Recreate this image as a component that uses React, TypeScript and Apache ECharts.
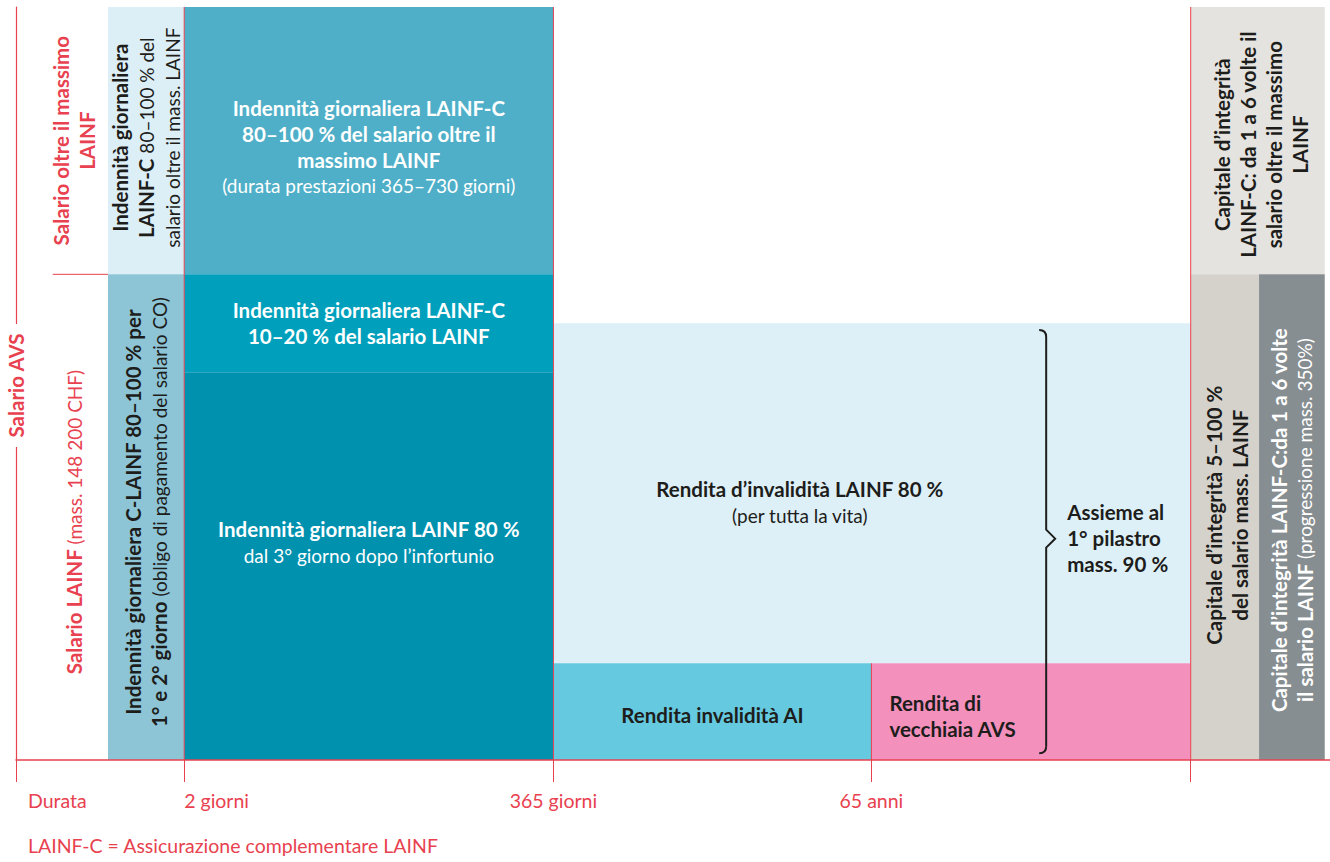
import React, { useEffect, useRef } from "react";
import * as echarts from "echarts";

const RED = "#E8414F";
const INK = "#1d1d1b";
const FONT = "Lato";

// Duration axis (layout units 0–100): ticks and their labels
const durationTicks = [0, 12.8, 40.9, 65.1, 89.4];
const durationLabels = ["Durata", "2 giorni", "365 giorni", "65 anni", ""];

// Column boundaries along the duration axis
const xCols = [0, 7, 12.8, 40.9, 65.1, 89.4, 94.6, 99.6];
// Salary levels on the AVS salary axis (0–100)
const yLevels = [0, 12.85, 51.5, 58, 64.5, 100];

// Blocks: [x0, x1, y0, y1]
const blocks: number[][] = [
  [xCols[1], xCols[2], yLevels[4], yLevels[5]],
  [xCols[1], xCols[2], yLevels[0], yLevels[4]],
  [xCols[2], xCols[3], yLevels[4], yLevels[5]],
  [xCols[2], xCols[3], yLevels[2], yLevels[4]],
  [xCols[2], xCols[3], yLevels[0], yLevels[2]],
  [xCols[3], xCols[5], yLevels[1], yLevels[3]],
  [xCols[3], xCols[4], yLevels[0], yLevels[1]],
  [xCols[4], xCols[5], yLevels[0], yLevels[1]],
  [xCols[5], xCols[7], yLevels[4], yLevels[5]],
  [xCols[5], xCols[6], yLevels[0], yLevels[4]],
  [xCols[6], xCols[7], yLevels[0], yLevels[4]],
];

const blockColors = [
  "#DDEFF6", "#8DC5D6", "#4FAFC8", "#00A0BC", "#0091AF",
  "#DDF0F7", "#65C9E0", "#F390BC", "#E5E3DF", "#D5D2CB", "#878E91",
];

const blockTexts = [
  "{b|Indennità giornaliera}\n{b|LAINF-C }{r|80–100 % del}\n{r|salario oltre il mass. LAINF}",
  "{b|Indennità giornaliera C-LAINF 80–100 % per}\n{b|1° e 2° giorno }{r|(obligo di pagamento del salario CO)}",
  "{b|Indennità giornaliera LAINF-C}\n{b|80–100 % del salario oltre il}\n{b|massimo LAINF}\n{r|(durata prestazioni 365–730 giorni)}",
  "{b|Indennità giornaliera LAINF-C}\n{b|10–20 % del salario LAINF}",
  "{b|Indennità giornaliera LAINF 80 %}\n{r|dal 3° giorno dopo l’infortunio}",
  "{b|Rendita d’invalidità LAINF 80 %}\n{r|(per tutta la vita)}",
  "{b|Rendita invalidità AI}",
  "{b|Rendita di}\n{b|vecchiaia AVS}",
  "{b|Capitale d’integrità}\n{b|LAINF-C: da 1 a 6 volte il}\n{b|salario oltre il massimo}\n{b|LAINF}",
  "{b|Capitale d’integrità 5–100 %}\n{b|del salario mass. LAINF}",
  "{b|Capitale d’integrità LAINF-C:da 1 a 6 volte}\n{b|il salario LAINF }{r|(progressione mass. 350%)}",
];

const blockTextColors = [INK, INK, "#fff", "#fff", "#fff", INK, INK, INK, INK, INK, "#fff"];

// Salary bands on the left
const bands: number[][] = [
  [2.8, xCols[1], yLevels[4], yLevels[5]],
  [2.8, xCols[1], yLevels[0], yLevels[4]],
];
const bandTexts = [
  "{b|Salario oltre il massimo}\n{b|LAINF}",
  "{b|Salario LAINF }{r|(mass. 148 200 CHF)}",
];

// Vertical axis title, placed at the middle of the salary axis
const axisTitle = "Salario AVS";

// Brace: [x, y0, y1]
const brace = [78.4, 0.9, 57.1];
const braceText = "{b|Assieme al}\n{b|1° pilastro}\n{b|mass. 90 %}";

// Red separator lines: [x0, y0, x1, y1]
const separators: number[][] = [
  [xCols[2], yLevels[0], xCols[2], yLevels[5]],
  [xCols[3], yLevels[0], xCols[3], yLevels[5]],
  [xCols[4], yLevels[0], xCols[4], yLevels[1]],
  [xCols[5], yLevels[0], xCols[5], yLevels[5]],
  [bands[0][0], yLevels[4], bands[0][1], yLevels[4]],
];

const footnote = "LAINF-C = Assicurazione complementare LAINF";

// text layout (pixels), separate from the data
const blockTextLayout = [
  { rot: true, dx: 0, dy: -3, align: "center" },
  { rot: true, dx: 0, dy: -5, align: "center" },
  { rot: false, dx: 0, dy: 6, align: "center" },
  { rot: false, dx: 0, dy: 0, align: "center" },
  { rot: false, dx: 0, dy: -24, align: "center" },
  { rot: false, dx: 0, dy: 9, align: "center", toBrace: true },
  { rot: false, dx: 0, dy: 3, align: "center" },
  { rot: false, dx: 18, dy: 4, align: "left" },
  { rot: true, dx: 3, dy: 4, align: "center" },
  { rot: true, dx: 2, dy: -2, align: "center" },
  { rot: true, dx: 0, dy: 3, align: "center" },
];

const FSB = 20.5;
const FSR = 19;
const LH = 26;

function rich(color: string, align: string) {
  return {
    b: { fontFamily: FONT, fontSize: FSB, fontWeight: "bold", lineHeight: LH, fill: color, align },
    r: { fontFamily: FONT, fontSize: FSR, fontWeight: "normal", lineHeight: LH, fill: color, align },
  };
}

function textEl(text: string, x: number, y: number, rot: boolean, color: string, align: string, extra?: any) {
  return {
    type: "text",
    x,
    y,
    rotation: rot ? Math.PI / 2 : 0,
    z2: 10,
    style: Object.assign(
      {
        text,
        fill: color,
        fontFamily: FONT,
        fontSize: FSB,
        lineHeight: LH,
        align,
        verticalAlign: "middle",
        rich: rich(color, align),
      },
      extra || {}
    ),
  };
}

export default function App() {
  const ref = useRef<HTMLDivElement>(null);

  useEffect(() => {
    if (!ref.current) return;
    const chart = echarts.init(ref.current, null, { renderer: "svg" });

    const labelFor = (v: number) => {
      const i = durationTicks.findIndex((t) => Math.abs(t - v) < 1e-6);
      return i >= 0 ? durationLabels[i] : "";
    };

    chart.setOption({
      animation: false,
      textStyle: { fontFamily: FONT },
      title: {
        text: footnote,
        left: 28,
        top: 835,
        padding: 0,
        textStyle: { color: RED, fontFamily: FONT, fontSize: FSR + 0.5, fontWeight: "normal" },
      },
      grid: { left: 16, right: 0, top: 7, bottom: 102, containLabel: false, outerBoundsMode: "none" },
      xAxis: [
        {
          type: "value",
          min: 0,
          max: 100,
          position: "bottom",
          z: 10,
          axisLine: { show: true, lineStyle: { color: RED, width: 1.5 } },
          axisTick: { show: true, customValues: durationTicks, length: 22, lineStyle: { color: RED, width: 1 } },
          axisLabel: {
            show: true,
            customValues: [durationTicks[2], durationTicks[3]],
            formatter: (v: number) => labelFor(v),
            color: RED,
            fontFamily: FONT,
            fontSize: FSR + 0.5,
            margin: 30,
          },
          splitLine: { show: false },
        },
        {
          type: "value",
          min: 0,
          max: 100,
          position: "bottom",
          axisLine: { show: false },
          axisTick: { show: false },
          axisLabel: {
            show: true,
            showMinLabel: true,
            customValues: [durationTicks[0], durationTicks[1]],
            align: "left",
            formatter: (v: number) => (v === durationTicks[0] ? "{d|" + labelFor(v) + "}" : "{g|" + labelFor(v) + "}"),
            margin: 30,
            rich: {
              d: { color: RED, fontFamily: FONT, fontSize: FSR + 0.5, padding: [0, 0, 0, 12] },
              g: { color: RED, fontFamily: FONT, fontSize: FSR + 0.5, padding: [0, 0, 0, 0] },
            },
          },
          splitLine: { show: false },
        },
      ],
      yAxis: {
        type: "value",
        min: 0,
        max: 100,
        axisLine: { show: true, lineStyle: { color: RED, width: 1.2 } },
        axisTick: { show: false },
        axisLabel: { show: false },
        splitLine: { show: false },
      },
      series: [
        {
          type: "custom",
          name: "blocks",
          xAxisIndex: 0,
          yAxisIndex: 0,
          z: 2,
          data: blocks.map((b, i) => [b[0], b[1], b[2], b[3], i]),
          renderItem: (params: any, api: any) => {
            const i = api.value(4);
            const p0 = api.coord([api.value(0), api.value(3)]);
            const p1 = api.coord([api.value(1), api.value(2)]);
            const lay: any = blockTextLayout[i];
            let right = p1[0];
            if (lay.toBrace) right = api.coord([brace[0], 0])[0];
            const cx = lay.align === "left" ? p0[0] : (p0[0] + right) / 2;
            const cy = (p0[1] + p1[1]) / 2;
            return {
              type: "group",
              children: [
                {
                  type: "rect",
                  shape: { x: p0[0], y: p0[1], width: p1[0] - p0[0], height: p1[1] - p0[1] },
                  style: { fill: blockColors[i] },
                },
                textEl(blockTexts[i], cx + lay.dx, cy + lay.dy, lay.rot, blockTextColors[i], lay.align),
              ],
            };
          },
        },
        {
          type: "custom",
          name: "bands",
          xAxisIndex: 0,
          yAxisIndex: 0,
          z: 3,
          data: bands.map((b, i) => [b[0], b[1], b[2], b[3], i]),
          renderItem: (params: any, api: any) => {
            const i = api.value(4);
            const p0 = api.coord([api.value(0), api.value(3)]);
            const p1 = api.coord([api.value(1), api.value(2)]);
            const cx = (p0[0] + p1[0]) / 2 - 6;
            const cy = (p0[1] + p1[1]) / 2 + (i === 0 ? 0 : 5);
            return { type: "group", children: [textEl(bandTexts[i], cx, cy, true, RED, "center")] };
          },
        },
        {
          type: "custom",
          name: "axisTitle",
          xAxisIndex: 0,
          yAxisIndex: 0,
          z: 6,
          data: [[0, 50]],
          renderItem: (params: any, api: any) => {
            const p = api.coord([api.value(0), api.value(1)]);
            return {
              type: "group",
              children: [
                textEl("{b|" + axisTitle + "}", p[0], p[1] + 2, true, RED, "center", {
                  backgroundColor: "#fff",
                  padding: [0, 9],
                }),
              ],
            };
          },
        },
        {
          type: "custom",
          name: "separators",
          xAxisIndex: 0,
          yAxisIndex: 0,
          z: 4,
          data: separators,
          renderItem: (params: any, api: any) => {
            const a = api.coord([api.value(0), api.value(1)]);
            const b = api.coord([api.value(2), api.value(3)]);
            return {
              type: "line",
              shape: { x1: a[0], y1: a[1], x2: b[0], y2: b[1] },
              style: { stroke: RED, lineWidth: 1 },
            };
          },
        },
        {
          type: "custom",
          name: "brace",
          xAxisIndex: 0,
          yAxisIndex: 0,
          z: 5,
          data: [brace],
          renderItem: (params: any, api: any) => {
            const top = api.coord([api.value(0), api.value(2)]);
            const bot = api.coord([api.value(0), api.value(1)]);
            const X = top[0];
            const T = top[1];
            const B = bot[1];
            const M = (T + B) / 2;
            const st = { stroke: INK, lineWidth: 2, fill: null };
            return {
              type: "group",
              children: [
                { type: "bezierCurve", shape: { x1: X - 7, y1: T, cpx1: X, cpy1: T, x2: X, y2: T + 7 }, style: st },
                {
                  type: "polyline",
                  shape: { points: [[X, T + 7], [X, M - 12], [X + 9, M - 3], [X, M + 6], [X, B - 7]] },
                  style: st,
                },
                { type: "bezierCurve", shape: { x1: X, y1: B - 7, cpx1: X, cpy1: B, x2: X - 7, y2: B }, style: st },
                textEl(braceText, X + 21, M - 4, false, INK, "left"),
              ],
            };
          },
        },
      ],
    });

    return () => chart.dispose();
  }, []);

  return <div ref={ref} style={{ position: "absolute", left: 0, top: 0, width: 1330, height: 862 }} />;
}
